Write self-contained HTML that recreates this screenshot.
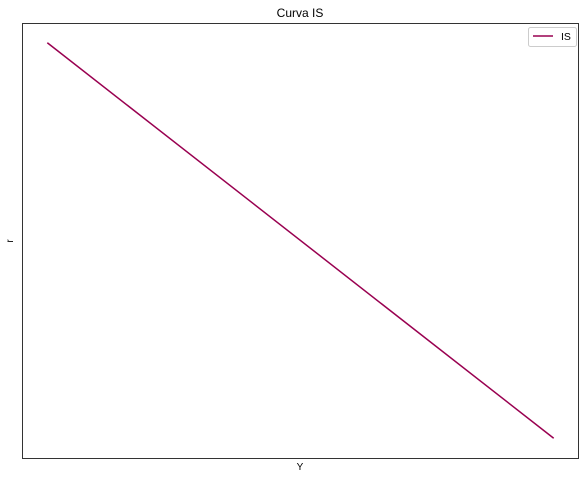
<!DOCTYPE html>
<html><head><meta charset="utf-8"><style>
body{margin:0;background:#fff;}
svg text{font-family:"Liberation Sans","DejaVu Sans",sans-serif;}
</style></head><body>
<svg width="586" height="479">
<text x="300" y="17" text-anchor="middle" font-size="12">Curva IS</text>
<rect x="22.5" y="23.5" width="556" height="435" fill="none" stroke="#333" stroke-width="1"/>
<text x="300" y="470" text-anchor="middle" font-size="10">Y</text>
<text x="13" y="241" text-anchor="middle" font-size="10" transform="rotate(-90 13 241)">r</text>
<g id="series"></g>
<g>
<rect x="528.5" y="27.5" width="48" height="19" rx="2" fill="#fff" stroke="#ccc"/>
<line x1="533" y1="36" x2="553" y2="36" stroke="#990050" stroke-width="1.5"/>
<text x="561" y="40" font-size="10.5">IS</text>
</g>
</svg>
<script>
const yValues=[0,100];
const rValues=[10,0];
const xMin=0,xMax=100,rMin=0,rMax=10;
const L=22,R=579,T=23,B=458,m=0.05;
function sx(v){const s=(xMax-xMin)*(1+2*m);return L+(v-xMin+(xMax-xMin)*m)/s*(R-L);}
function sy(v){const s=(rMax-rMin)*(1+2*m);return B-(v-rMin+(rMax-rMin)*m)/s*(B-T);}
const g=document.getElementById('series');
const p=document.createElementNS('http://www.w3.org/2000/svg','polyline');
p.setAttribute('points',yValues.map((v,i)=>sx(v)+','+sy(rValues[i])).join(' '));
p.setAttribute('fill','none');p.setAttribute('stroke','#990050');p.setAttribute('stroke-width','1.5');


g.appendChild(p);
</script>
</body></html>
